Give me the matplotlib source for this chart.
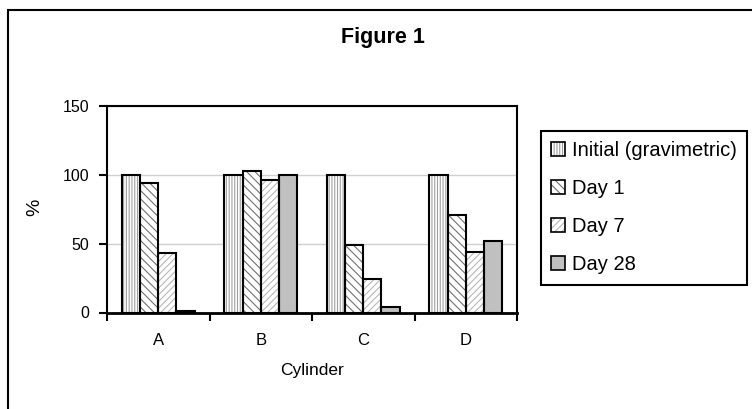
import matplotlib
matplotlib.use('Agg')
from matplotlib import pyplot as plt
from matplotlib.patches import Patch, Rectangle
import numpy as np

cylinders = ['A', 'B', 'C', 'D']
series = ['Initial (gravimetric)', 'Day 1', 'Day 7', 'Day 28']
initial = [100, 100, 100, 100]
day1 = [94, 103, 49, 71]
day7 = [43, 96, 24, 44]
day28 = [1, 100, 4, 52]

values = [initial, day1, day7, day28]
hatches = ['||||||', '\\\\\\\\', '/////', None]
hatch_colors = ['#a0a0a0', '#707070', '#b8b8b8', 'black']
faces = ['white', 'white', 'white', '#c0c0c0']

plt.rcParams['font.family'] = ['Liberation Sans', 'DejaVu Sans']
plt.rcParams['hatch.linewidth'] = 0.8

fig = plt.figure(figsize=(7.52, 4.09), dpi=100)
ax = fig.add_axes([107 / 752, 1 - 312.5 / 409, 410 / 752, 206.5 / 409])

x = np.arange(len(cylinders))
w = 0.178
handles = []
for i, vals in enumerate(values):
    pos = x + (i - 1.5) * w
    ax.bar(pos, vals, w, color=faces[i], hatch=hatches[i],
           edgecolor=hatch_colors[i], linewidth=0, zorder=2)
    ax.bar(pos, vals, w, fill=False, edgecolor='black', linewidth=1.5, zorder=3)
    h1 = Patch(facecolor=faces[i], hatch=hatches[i], edgecolor=hatch_colors[i], linewidth=0)
    h2 = Patch(fill=False, edgecolor='black', linewidth=1.2)
    handles.append((h1, h2))

ax.set_xlim(-0.5, 3.5)
ax.set_ylim(0, 150)
ax.set_yticks([0, 50, 100, 150])
ax.set_xticks(x)
ax.set_xticklabels(cylinders)
ax.set_xticks(np.arange(-0.5, 4, 1), minor=True)
ax.tick_params(axis='x', which='major', length=0, labelsize=12, pad=15)
ax.tick_params(axis='x', which='minor', length=6, width=1.5, direction='out')
ax.tick_params(axis='y', length=6, width=1.5, labelsize=11.5, pad=7)
ax.grid(axis='y', color='#d0d0d0', linewidth=1, zorder=0)
ax.set_axisbelow(True)
for s in ax.spines.values():
    s.set_linewidth(1.5)
ax.spines['bottom'].set_linewidth(2)

ax.set_xlabel('Cylinder', fontsize=12.5, va='center', ha='center')
ax.xaxis.set_label_coords(0.5, -(370 - 312.5) / 206.5)
ax.set_ylabel('%', fontsize=14, va='center', ha='center')
ax.yaxis.set_label_coords((35 - 107) / 410, (312.5 - 207) / 206.5)

fig.text(383 / 752, 1 - 38 / 409, 'Figure 1', fontsize=15.5, fontweight='bold',
         ha='center', va='center')

leg = fig.legend(handles, series, loc='upper left',
                 bbox_to_anchor=(541 / 752, 1 - 131 / 409),
                 bbox_transform=fig.transFigure, borderaxespad=0,
                 fontsize=14.5, handlelength=0.7, handleheight=0.7,
                 handletextpad=0.35, labelspacing=0.95, borderpad=0.5,
                 fancybox=False, framealpha=1, edgecolor='black')
leg.get_frame().set_linewidth(1.5)

# outer chart border, runs off the right and bottom edges
fig.patches.append(Rectangle((8 / 752, -0.1), 2, 1.1 - 10 / 409,
                             transform=fig.transFigure, fill=False,
                             edgecolor='black', linewidth=1.5))

plt.savefig('out.png', dpi=100)
